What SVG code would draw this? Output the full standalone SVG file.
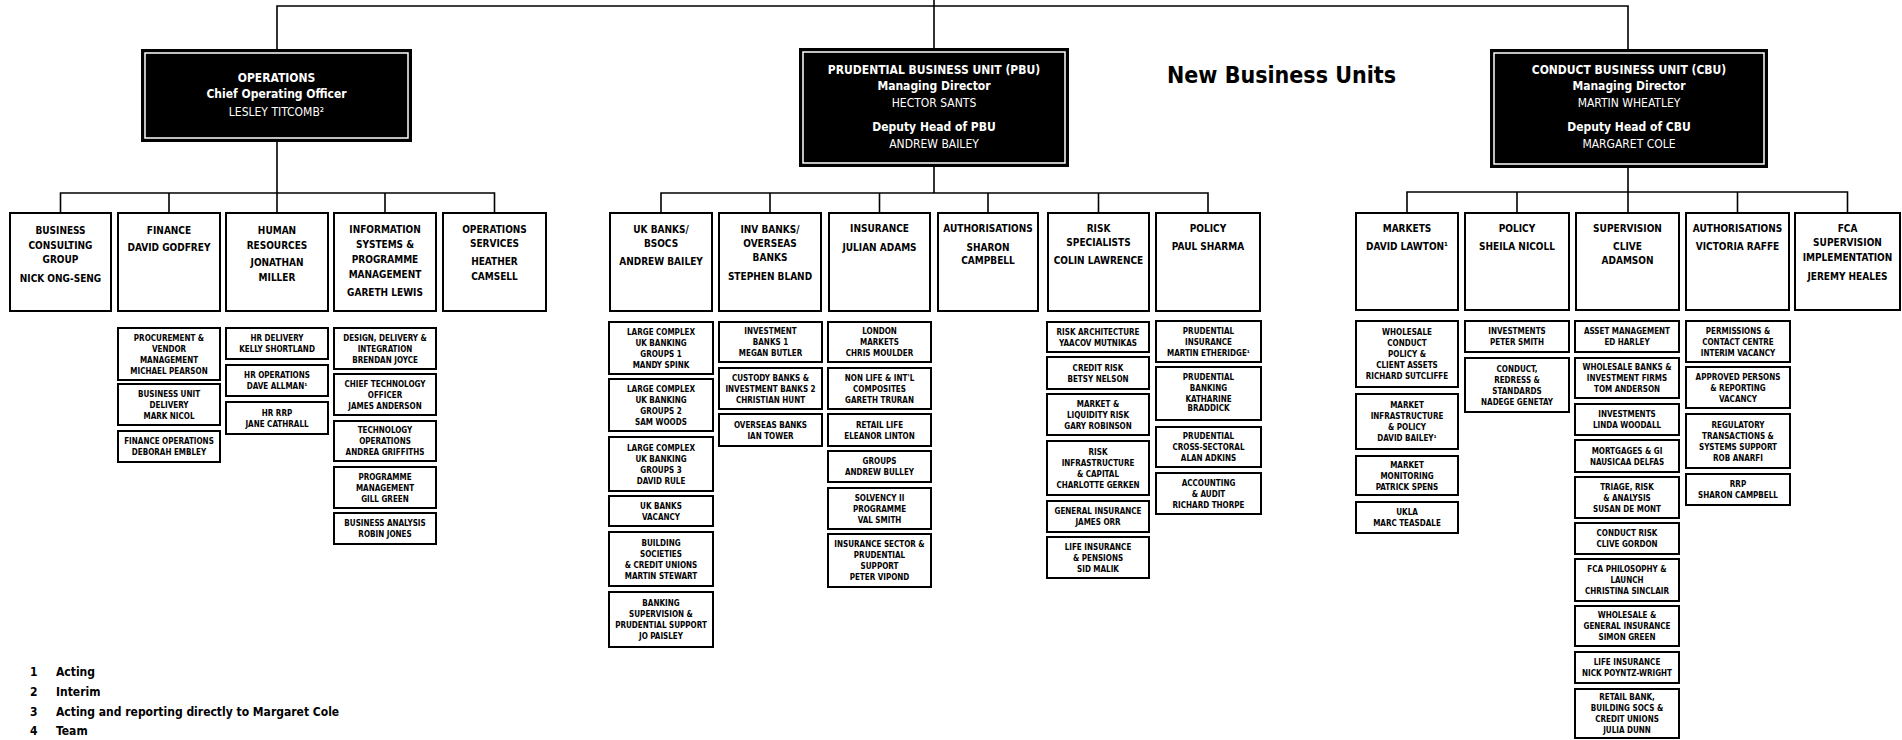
<svg xmlns="http://www.w3.org/2000/svg" width="1902" height="740" viewBox="0 0 1902 740">
<style>
.bk{fill:#000}
.bki{fill:none;stroke:#fff;stroke-width:1.5}
.hb,.sb{fill:#fff;stroke:#000;stroke-width:2}
.cn{fill:none;stroke:#000;stroke-width:1.6}
text{font-family:"DejaVu Sans Condensed","Liberation Sans",sans-serif;text-anchor:middle;fill:#000}
.wt{font-size:12px;fill:#fff}
.b{font-weight:bold}
.ht{font-size:10px;font-weight:bold}
.st{font-size:8px;font-weight:bold}
.fn{font-size:12px;font-weight:bold;text-anchor:start}
.ttl{font-size:23px;font-weight:bold;text-anchor:start}
</style>
<rect width="1902" height="740" fill="#fff"/>
<g id="connectors">
<path class="cn" d="M277,49 V6 H1628 V49 M934,0 V48"/>
<path class="cn" d="M277,142 V213 M60.5,213 V193 H494.5 V213 M169,193 V213 M385,193 V213"/>
<path class="cn" d="M934,167 V193 M661,213 V193 H1208 V213 M770,193 V213 M879.5,193 V213 M988,193 V213 M1098.5,193 V213"/>
<path class="cn" d="M1628,168 V213 M1407,213 V192 H1847.5 V213 M1517,192 V213 M1737.5,192 V213"/>
</g>
<text id="title" class="ttl" x="1167" y="83">New Business Units</text>
<g id="operations">
<rect class="bk" x="141" y="49" width="271" height="93"/>
<rect class="bki" x="145" y="53" width="263" height="85"/>
<text class="wt b" x="276.5" y="82">OPERATIONS</text>
<text class="wt b" x="276.5" y="98">Chief Operating Officer</text>
<text class="wt" x="276.5" y="116">LESLEY TITCOMB²</text>
</g>
<g id="pbu">
<rect class="bk" x="799" y="48" width="270" height="119"/>
<rect class="bki" x="803" y="52" width="262" height="111"/>
<text class="wt b" x="934" y="74">PRUDENTIAL BUSINESS UNIT (PBU)</text>
<text class="wt b" x="934" y="90">Managing Director</text>
<text class="wt" x="934" y="107">HECTOR SANTS</text>
<text class="wt b" x="934" y="131">Deputy Head of PBU</text>
<text class="wt" x="934" y="148">ANDREW BAILEY</text>
</g>
<g id="cbu">
<rect class="bk" x="1490" y="49" width="278" height="119"/>
<rect class="bki" x="1494" y="53" width="270" height="111"/>
<text class="wt b" x="1629" y="74">CONDUCT BUSINESS UNIT (CBU)</text>
<text class="wt b" x="1629" y="90">Managing Director</text>
<text class="wt" x="1629" y="107">MARTIN WHEATLEY</text>
<text class="wt b" x="1629" y="131">Deputy Head of CBU</text>
<text class="wt" x="1629" y="148">MARGARET COLE</text>
</g>
<!-- Operations headers -->
<g id="h-bcg"><rect class="hb" x="10" y="213" width="101" height="98"/><text class="ht"><tspan x="60.5" y="233.5">BUSINESS</tspan><tspan x="60.5" dy="15">CONSULTING</tspan><tspan x="60.5" dy="14">GROUP</tspan><tspan x="60.5" dy="19">NICK ONG-SENG</tspan></text></g>
<g id="h-fin"><rect class="hb" x="118" y="213" width="102" height="98"/><text class="ht"><tspan x="169" y="233.5">FINANCE</tspan><tspan x="169" dy="17">DAVID GODFREY</tspan></text></g>
<g id="h-hr"><rect class="hb" x="226" y="213" width="102" height="98"/><text class="ht"><tspan x="277" y="233.5">HUMAN</tspan><tspan x="277" dy="15">RESOURCES</tspan><tspan x="277" dy="17">JONATHAN</tspan><tspan x="277" dy="15">MILLER</tspan></text></g>
<g id="h-is"><rect class="hb" x="334" y="213" width="102" height="98"/><text class="ht"><tspan x="385" y="232.5">INFORMATION</tspan><tspan x="385" dy="15">SYSTEMS &amp;</tspan><tspan x="385" dy="15">PROGRAMME</tspan><tspan x="385" dy="15">MANAGEMENT</tspan><tspan x="385" dy="18">GARETH LEWIS</tspan></text></g>
<g id="h-opss"><rect class="hb" x="443" y="213" width="103" height="98"/><text class="ht"><tspan x="494.5" y="232.5">OPERATIONS</tspan><tspan x="494.5" dy="14">SERVICES</tspan><tspan x="494.5" dy="18">HEATHER</tspan><tspan x="494.5" dy="15">CAMSELL</tspan></text></g>
<!-- PBU headers -->
<g id="h-ukb"><rect class="hb" x="610" y="213" width="102" height="98"/><text class="ht"><tspan x="661" y="232.5">UK BANKS/</tspan><tspan x="661" dy="14">BSOCS</tspan><tspan x="661" dy="18">ANDREW BAILEY</tspan></text></g>
<g id="h-inv"><rect class="hb" x="719" y="213" width="102" height="98"/><text class="ht"><tspan x="770" y="232.5">INV BANKS/</tspan><tspan x="770" dy="14">OVERSEAS</tspan><tspan x="770" dy="14">BANKS</tspan><tspan x="770" dy="19">STEPHEN BLAND</tspan></text></g>
<g id="h-ins"><rect class="hb" x="829" y="213" width="101" height="98"/><text class="ht"><tspan x="879.5" y="231.5">INSURANCE</tspan><tspan x="879.5" dy="19">JULIAN ADAMS</tspan></text></g>
<g id="h-pauth"><rect class="hb" x="938" y="213" width="100" height="98"/><text class="ht"><tspan x="988" y="231.5">AUTHORISATIONS</tspan><tspan x="988" dy="19">SHARON</tspan><tspan x="988" dy="13">CAMPBELL</tspan></text></g>
<g id="h-risk"><rect class="hb" x="1048" y="213" width="101" height="98"/><text class="ht"><tspan x="1098.5" y="231.5">RISK</tspan><tspan x="1098.5" dy="14">SPECIALISTS</tspan><tspan x="1098.5" dy="18">COLIN LAWRENCE</tspan></text></g>
<g id="h-ppol"><rect class="hb" x="1156" y="213" width="104" height="98"/><text class="ht"><tspan x="1208" y="231.5">POLICY</tspan><tspan x="1208" dy="18">PAUL SHARMA</tspan></text></g>
<!-- CBU headers -->
<g id="h-mkt"><rect class="hb" x="1356" y="213" width="102" height="97"/><text class="ht"><tspan x="1407" y="231.5">MARKETS</tspan><tspan x="1407" dy="18">DAVID LAWTON¹</tspan></text></g>
<g id="h-cpol"><rect class="hb" x="1465" y="213" width="104" height="97"/><text class="ht"><tspan x="1517" y="231.5">POLICY</tspan><tspan x="1517" dy="18">SHEILA NICOLL</tspan></text></g>
<g id="h-sup"><rect class="hb" x="1576" y="213" width="103" height="97"/><text class="ht"><tspan x="1627.5" y="231.5">SUPERVISION</tspan><tspan x="1627.5" dy="18">CLIVE</tspan><tspan x="1627.5" dy="14">ADAMSON</tspan></text></g>
<g id="h-cauth"><rect class="hb" x="1686" y="213" width="103" height="97"/><text class="ht"><tspan x="1737.5" y="231.5">AUTHORISATIONS</tspan><tspan x="1737.5" dy="18">VICTORIA RAFFE</tspan></text></g>
<g id="h-fca"><rect class="hb" x="1795" y="213" width="105" height="97"/><text class="ht"><tspan x="1847.5" y="231.5">FCA</tspan><tspan x="1847.5" dy="14">SUPERVISION</tspan><tspan x="1847.5" dy="15">IMPLEMENTATION</tspan><tspan x="1847.5" dy="19">JEREMY HEALES</tspan></text></g>
<!-- Finance column -->
<g id="fin1"><rect class="sb" x="118" y="328" width="102" height="52"/><text class="st"><tspan x="169" y="340.5">PROCUREMENT &amp;</tspan><tspan x="169" dy="11">VENDOR</tspan><tspan x="169" dy="11">MANAGEMENT</tspan><tspan x="169" dy="11">MICHAEL PEARSON</tspan></text></g>
<g id="fin2"><rect class="sb" x="118" y="384" width="102" height="41"/><text class="st"><tspan x="169" y="396.5">BUSINESS UNIT</tspan><tspan x="169" dy="11">DELIVERY</tspan><tspan x="169" dy="11">MARK NICOL</tspan></text></g>
<g id="fin3"><rect class="sb" x="118" y="431" width="102" height="31"/><text class="st"><tspan x="169" y="444">FINANCE OPERATIONS</tspan><tspan x="169" dy="11">DEBORAH EMBLEY</tspan></text></g>
<!-- HR column -->
<g id="hr1"><rect class="sb" x="226" y="328" width="102" height="31"/><text class="st"><tspan x="277" y="341">HR DELIVERY</tspan><tspan x="277" dy="11">KELLY SHORTLAND</tspan></text></g>
<g id="hr2"><rect class="sb" x="226" y="365" width="102" height="31"/><text class="st"><tspan x="277" y="378">HR OPERATIONS</tspan><tspan x="277" dy="11">DAVE ALLMAN¹</tspan></text></g>
<g id="hr3"><rect class="sb" x="226" y="402" width="102" height="32"/><text class="st"><tspan x="277" y="415.5">HR RRP</tspan><tspan x="277" dy="11">JANE CATHRALL</tspan></text></g>
<!-- IS column -->
<g id="is1"><rect class="sb" x="334" y="328" width="102" height="41"/><text class="st"><tspan x="385" y="340.5">DESIGN, DELIVERY &amp;</tspan><tspan x="385" dy="11">INTEGRATION</tspan><tspan x="385" dy="11">BRENDAN JOYCE</tspan></text></g>
<g id="is2"><rect class="sb" x="334" y="374" width="102" height="41"/><text class="st"><tspan x="385" y="386.5">CHIEF TECHNOLOGY</tspan><tspan x="385" dy="11">OFFICER</tspan><tspan x="385" dy="11">JAMES ANDERSON</tspan></text></g>
<g id="is3"><rect class="sb" x="334" y="421" width="102" height="40"/><text class="st"><tspan x="385" y="433">TECHNOLOGY</tspan><tspan x="385" dy="11">OPERATIONS</tspan><tspan x="385" dy="11">ANDREA GRIFFITHS</tspan></text></g>
<g id="is4"><rect class="sb" x="334" y="467" width="102" height="41"/><text class="st"><tspan x="385" y="479.5">PROGRAMME</tspan><tspan x="385" dy="11">MANAGEMENT</tspan><tspan x="385" dy="11">GILL GREEN</tspan></text></g>
<g id="is5"><rect class="sb" x="334" y="513" width="102" height="31"/><text class="st"><tspan x="385" y="526">BUSINESS ANALYSIS</tspan><tspan x="385" dy="11">ROBIN JONES</tspan></text></g>
<!-- UK Banks column -->
<g id="ukb1"><rect class="sb" x="609" y="322" width="104" height="52"/><text class="st"><tspan x="661" y="334.5">LARGE COMPLEX</tspan><tspan x="661" dy="11">UK BANKING</tspan><tspan x="661" dy="11">GROUPS 1</tspan><tspan x="661" dy="11">MANDY SPINK</tspan></text></g>
<g id="ukb2"><rect class="sb" x="609" y="379" width="104" height="52"/><text class="st"><tspan x="661" y="391.5">LARGE COMPLEX</tspan><tspan x="661" dy="11">UK BANKING</tspan><tspan x="661" dy="11">GROUPS 2</tspan><tspan x="661" dy="11">SAM WOODS</tspan></text></g>
<g id="ukb3"><rect class="sb" x="609" y="437" width="104" height="54"/><text class="st"><tspan x="661" y="450.5">LARGE COMPLEX</tspan><tspan x="661" dy="11">UK BANKING</tspan><tspan x="661" dy="11">GROUPS 3</tspan><tspan x="661" dy="11">DAVID RULE</tspan></text></g>
<g id="ukb4"><rect class="sb" x="609" y="496" width="104" height="30"/><text class="st"><tspan x="661" y="508.5">UK BANKS</tspan><tspan x="661" dy="11">VACANCY</tspan></text></g>
<g id="ukb5"><rect class="sb" x="609" y="532" width="104" height="54"/><text class="st"><tspan x="661" y="545.5">BUILDING</tspan><tspan x="661" dy="11">SOCIETIES</tspan><tspan x="661" dy="11">&amp; CREDIT UNIONS</tspan><tspan x="661" dy="11">MARTIN STEWART</tspan></text></g>
<g id="ukb6"><rect class="sb" x="609" y="592" width="104" height="55"/><text class="st"><tspan x="661" y="606">BANKING</tspan><tspan x="661" dy="11">SUPERVISION &amp;</tspan><tspan x="661" dy="11">PRUDENTIAL SUPPORT</tspan><tspan x="661" dy="11">JO PAISLEY</tspan></text></g>
<!-- Inv Banks column -->
<g id="inv1"><rect class="sb" x="719" y="322" width="103" height="40"/><text class="st"><tspan x="770.5" y="334">INVESTMENT</tspan><tspan x="770.5" dy="11">BANKS 1</tspan><tspan x="770.5" dy="11">MEGAN BUTLER</tspan></text></g>
<g id="inv2"><rect class="sb" x="719" y="368" width="103" height="41"/><text class="st"><tspan x="770.5" y="380.5">CUSTODY BANKS &amp;</tspan><tspan x="770.5" dy="11">INVESTMENT BANKS 2</tspan><tspan x="770.5" dy="11">CHRISTIAN HUNT</tspan></text></g>
<g id="inv3"><rect class="sb" x="719" y="414" width="103" height="32"/><text class="st"><tspan x="770.5" y="427.5">OVERSEAS BANKS</tspan><tspan x="770.5" dy="11">IAN TOWER</tspan></text></g>
<!-- Insurance column -->
<g id="ins1"><rect class="sb" x="828" y="322" width="103" height="40"/><text class="st"><tspan x="879.5" y="334">LONDON</tspan><tspan x="879.5" dy="11">MARKETS</tspan><tspan x="879.5" dy="11">CHRIS MOULDER</tspan></text></g>
<g id="ins2"><rect class="sb" x="828" y="368" width="103" height="41"/><text class="st"><tspan x="879.5" y="380.5">NON LIFE &amp; INT'L</tspan><tspan x="879.5" dy="11">COMPOSITES</tspan><tspan x="879.5" dy="11">GARETH TRURAN</tspan></text></g>
<g id="ins3"><rect class="sb" x="828" y="414" width="103" height="32"/><text class="st"><tspan x="879.5" y="427.5">RETAIL LIFE</tspan><tspan x="879.5" dy="11">ELEANOR LINTON</tspan></text></g>
<g id="ins4"><rect class="sb" x="828" y="451" width="103" height="31"/><text class="st"><tspan x="879.5" y="464">GROUPS</tspan><tspan x="879.5" dy="11">ANDREW BULLEY</tspan></text></g>
<g id="ins5"><rect class="sb" x="828" y="488" width="103" height="41"/><text class="st"><tspan x="879.5" y="500.5">SOLVENCY II</tspan><tspan x="879.5" dy="11">PROGRAMME</tspan><tspan x="879.5" dy="11">VAL SMITH</tspan></text></g>
<g id="ins6"><rect class="sb" x="828" y="534" width="103" height="53"/><text class="st"><tspan x="879.5" y="547">INSURANCE SECTOR &amp;</tspan><tspan x="879.5" dy="11">PRUDENTIAL</tspan><tspan x="879.5" dy="11">SUPPORT</tspan><tspan x="879.5" dy="11">PETER VIPOND</tspan></text></g>
<!-- Risk column -->
<g id="risk1"><rect class="sb" x="1047" y="322" width="102" height="30"/><text class="st"><tspan x="1098" y="334.5">RISK ARCHITECTURE</tspan><tspan x="1098" dy="11">YAACOV MUTNIKAS</tspan></text></g>
<g id="risk2"><rect class="sb" x="1047" y="357" width="102" height="32"/><text class="st"><tspan x="1098" y="370.5">CREDIT RISK</tspan><tspan x="1098" dy="11">BETSY NELSON</tspan></text></g>
<g id="risk3"><rect class="sb" x="1047" y="394" width="102" height="41"/><text class="st"><tspan x="1098" y="406.5">MARKET &amp;</tspan><tspan x="1098" dy="11">LIQUIDITY RISK</tspan><tspan x="1098" dy="11">GARY ROBINSON</tspan></text></g>
<g id="risk4"><rect class="sb" x="1047" y="441" width="102" height="54"/><text class="st"><tspan x="1098" y="454.5">RISK</tspan><tspan x="1098" dy="11">INFRASTRUCTURE</tspan><tspan x="1098" dy="11">&amp; CAPITAL</tspan><tspan x="1098" dy="11">CHARLOTTE GERKEN</tspan></text></g>
<g id="risk5"><rect class="sb" x="1047" y="501" width="102" height="31"/><text class="st"><tspan x="1098" y="514">GENERAL INSURANCE</tspan><tspan x="1098" dy="11">JAMES ORR</tspan></text></g>
<g id="risk6"><rect class="sb" x="1047" y="537" width="102" height="41"/><text class="st"><tspan x="1098" y="549.5">LIFE INSURANCE</tspan><tspan x="1098" dy="11">&amp; PENSIONS</tspan><tspan x="1098" dy="11">SID MALIK</tspan></text></g>
<!-- PBU Policy column -->
<g id="ppol1"><rect class="sb" x="1156" y="321" width="105" height="41"/><text class="st"><tspan x="1208.5" y="333.5">PRUDENTIAL</tspan><tspan x="1208.5" dy="11">INSURANCE</tspan><tspan x="1208.5" dy="11">MARTIN ETHERIDGE¹</tspan></text></g>
<g id="ppol2"><rect class="sb" x="1156" y="367" width="105" height="53"/><text class="st"><tspan x="1208.5" y="380">PRUDENTIAL</tspan><tspan x="1208.5" dy="11">BANKING</tspan><tspan x="1208.5" dy="11">KATHARINE</tspan><tspan x="1208.5" dy="9">BRADDICK</tspan></text></g>
<g id="ppol3"><rect class="sb" x="1156" y="427" width="105" height="40"/><text class="st"><tspan x="1208.5" y="439">PRUDENTIAL</tspan><tspan x="1208.5" dy="11">CROSS-SECTORAL</tspan><tspan x="1208.5" dy="11">ALAN ADKINS</tspan></text></g>
<g id="ppol4"><rect class="sb" x="1156" y="473" width="105" height="41"/><text class="st"><tspan x="1208.5" y="485.5">ACCOUNTING</tspan><tspan x="1208.5" dy="11">&amp; AUDIT</tspan><tspan x="1208.5" dy="11">RICHARD THORPE</tspan></text></g>
<!-- Markets column -->
<g id="mkt1"><rect class="sb" x="1356" y="321" width="102" height="66"/><text class="st"><tspan x="1407" y="335">WHOLESALE</tspan><tspan x="1407" dy="11">CONDUCT</tspan><tspan x="1407" dy="11">POLICY &amp;</tspan><tspan x="1407" dy="11">CLIENT ASSETS</tspan><tspan x="1407" dy="11">RICHARD SUTCLIFFE</tspan></text></g>
<g id="mkt2"><rect class="sb" x="1356" y="394" width="102" height="55"/><text class="st"><tspan x="1407" y="408">MARKET</tspan><tspan x="1407" dy="11">INFRASTRUCTURE</tspan><tspan x="1407" dy="11">&amp; POLICY</tspan><tspan x="1407" dy="11">DAVID BAILEY¹</tspan></text></g>
<g id="mkt3"><rect class="sb" x="1356" y="456" width="102" height="39"/><text class="st"><tspan x="1407" y="467.5">MARKET</tspan><tspan x="1407" dy="11">MONITORING</tspan><tspan x="1407" dy="11">PATRICK SPENS</tspan></text></g>
<g id="mkt4"><rect class="sb" x="1356" y="502" width="102" height="31"/><text class="st"><tspan x="1407" y="515">UKLA</tspan><tspan x="1407" dy="11">MARC TEASDALE</tspan></text></g>
<!-- CBU Policy column -->
<g id="cpol1"><rect class="sb" x="1465" y="321" width="104" height="31"/><text class="st"><tspan x="1517" y="334">INVESTMENTS</tspan><tspan x="1517" dy="11">PETER SMITH</tspan></text></g>
<g id="cpol2"><rect class="sb" x="1465" y="358" width="104" height="54"/><text class="st"><tspan x="1517" y="371.5">CONDUCT,</tspan><tspan x="1517" dy="11">REDRESS &amp;</tspan><tspan x="1517" dy="11">STANDARDS</tspan><tspan x="1517" dy="11">NADEGE GENETAY</tspan></text></g>
<!-- Supervision column -->
<g id="sup1"><rect class="sb" x="1575" y="321" width="104" height="31"/><text class="st"><tspan x="1627" y="334">ASSET MANAGEMENT</tspan><tspan x="1627" dy="11">ED HARLEY</tspan></text></g>
<g id="sup2"><rect class="sb" x="1575" y="358" width="104" height="40"/><text class="st"><tspan x="1627" y="370">WHOLESALE BANKS &amp;</tspan><tspan x="1627" dy="11">INVESTMENT FIRMS</tspan><tspan x="1627" dy="11">TOM ANDERSON</tspan></text></g>
<g id="sup3"><rect class="sb" x="1575" y="404" width="104" height="31"/><text class="st"><tspan x="1627" y="417">INVESTMENTS</tspan><tspan x="1627" dy="11">LINDA WOODALL</tspan></text></g>
<g id="sup4"><rect class="sb" x="1575" y="440" width="104" height="32"/><text class="st"><tspan x="1627" y="453.5">MORTGAGES &amp; GI</tspan><tspan x="1627" dy="11">NAUSICAA DELFAS</tspan></text></g>
<g id="sup5"><rect class="sb" x="1575" y="477" width="104" height="41"/><text class="st"><tspan x="1627" y="489.5">TRIAGE, RISK</tspan><tspan x="1627" dy="11">&amp; ANALYSIS</tspan><tspan x="1627" dy="11">SUSAN DE MONT</tspan></text></g>
<g id="sup6"><rect class="sb" x="1575" y="523" width="104" height="31"/><text class="st"><tspan x="1627" y="536">CONDUCT RISK</tspan><tspan x="1627" dy="11">CLIVE GORDON</tspan></text></g>
<g id="sup7"><rect class="sb" x="1575" y="559" width="104" height="42"/><text class="st"><tspan x="1627" y="572">FCA PHILOSOPHY &amp;</tspan><tspan x="1627" dy="11">LAUNCH</tspan><tspan x="1627" dy="11">CHRISTINA SINCLAIR</tspan></text></g>
<g id="sup8"><rect class="sb" x="1575" y="606" width="104" height="40"/><text class="st"><tspan x="1627" y="618">WHOLESALE &amp;</tspan><tspan x="1627" dy="11">GENERAL INSURANCE</tspan><tspan x="1627" dy="11">SIMON GREEN</tspan></text></g>
<g id="sup9"><rect class="sb" x="1575" y="652" width="104" height="31"/><text class="st"><tspan x="1627" y="665">LIFE INSURANCE</tspan><tspan x="1627" dy="11">NICK POYNTZ-WRIGHT</tspan></text></g>
<g id="sup10"><rect class="sb" x="1575" y="689" width="104" height="49"/><text class="st"><tspan x="1627" y="700">RETAIL BANK,</tspan><tspan x="1627" dy="11">BUILDING SOCS &amp;</tspan><tspan x="1627" dy="11">CREDIT UNIONS</tspan><tspan x="1627" dy="11">JULIA DUNN</tspan></text></g>
<!-- CBU Authorisations column -->
<g id="cauth1"><rect class="sb" x="1686" y="321" width="104" height="41"/><text class="st"><tspan x="1738" y="333.5">PERMISSIONS &amp;</tspan><tspan x="1738" dy="11">CONTACT CENTRE</tspan><tspan x="1738" dy="11">INTERIM VACANCY</tspan></text></g>
<g id="cauth2"><rect class="sb" x="1686" y="367" width="104" height="41"/><text class="st"><tspan x="1738" y="379.5">APPROVED PERSONS</tspan><tspan x="1738" dy="11">&amp; REPORTING</tspan><tspan x="1738" dy="11">VACANCY</tspan></text></g>
<g id="cauth3"><rect class="sb" x="1686" y="414" width="104" height="54"/><text class="st"><tspan x="1738" y="427.5">REGULATORY</tspan><tspan x="1738" dy="11">TRANSACTIONS &amp;</tspan><tspan x="1738" dy="11">SYSTEMS SUPPORT</tspan><tspan x="1738" dy="11">ROB ANARFI</tspan></text></g>
<g id="cauth4"><rect class="sb" x="1686" y="474" width="104" height="31"/><text class="st"><tspan x="1738" y="487">RRP</tspan><tspan x="1738" dy="11">SHARON CAMPBELL</tspan></text></g>
<!-- Footnotes -->
<g id="footnotes">
<text class="fn" x="30" y="676">1</text><text class="fn" x="56" y="676">Acting</text>
<text class="fn" x="30" y="696">2</text><text class="fn" x="56" y="696">Interim</text>
<text class="fn" x="30" y="716">3</text><text class="fn" x="56" y="716">Acting and reporting directly to Margaret Cole</text>
<text class="fn" x="30" y="735">4</text><text class="fn" x="56" y="735">Team</text>
</g>
</svg>
